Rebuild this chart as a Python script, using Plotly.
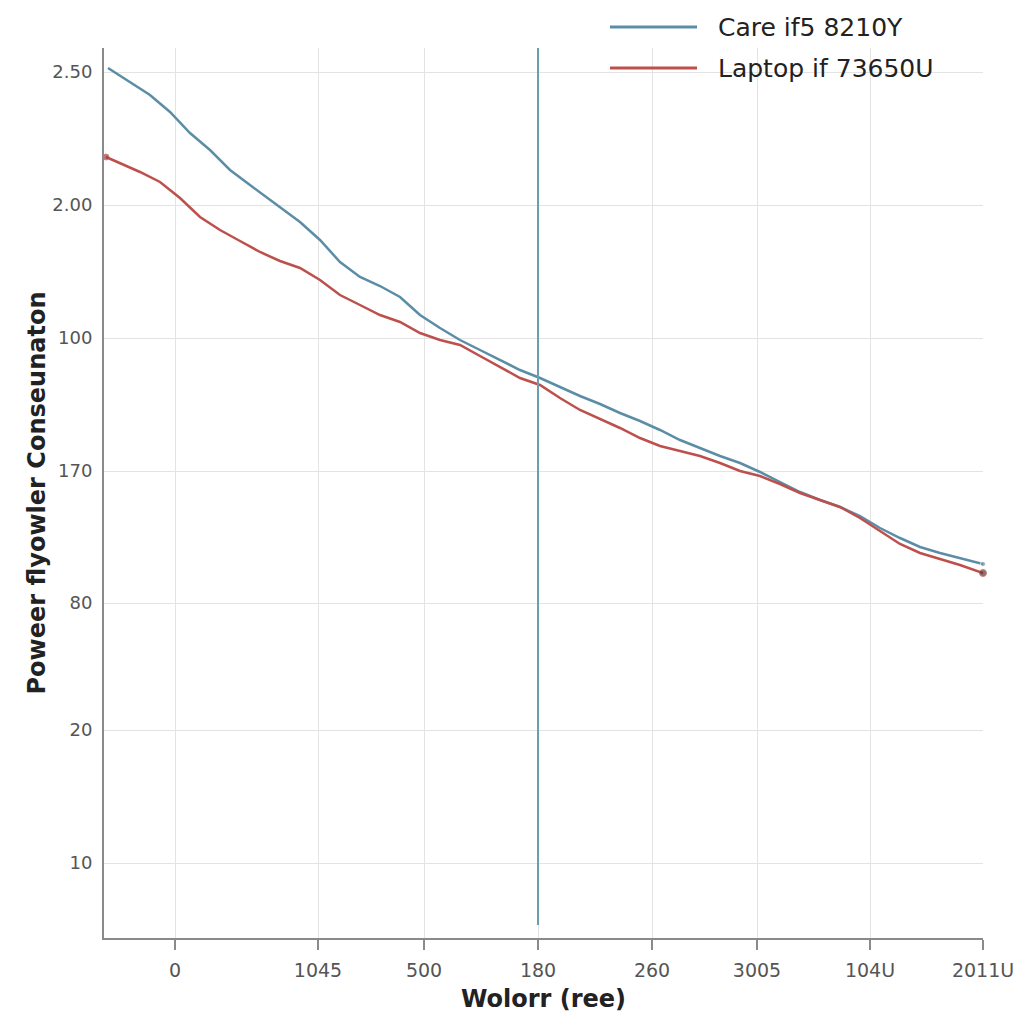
import plotly.graph_objects as go

# Tick labels (as printed in the reference) and their positions on the chart's scales
x_tick_pos = [71, 214, 320, 434, 548, 653, 766, 879]
x_tick_text = ["0", "1045", "500", "180", "260", "3005", "104U", "2011U"]
y_tick_pos = [866, 733, 600, 467, 335, 208, 75]
y_tick_text = ["2.50", "2.00", "100", "170", "80", "20", "10"]

# Series: Care i5 8210Y
core_x = [4, 26, 46, 66, 86, 106, 126, 146, 166, 196, 216, 236, 256, 276, 296, 316, 336, 356,
          376, 396, 416, 436, 456, 476, 496, 516, 536, 556, 576, 596, 616, 636, 656, 676, 696,
          716, 736, 756, 776, 796, 816, 836, 856, 879]
core_y = [870, 856, 843, 826, 805, 788, 768, 753, 738, 716, 698, 676, 661, 652, 641, 623, 610, 598,
          588, 578, 568, 560, 551, 542, 534, 525, 517, 508, 498, 490, 482, 475, 466, 456, 446,
          438, 431, 422, 410, 400, 391, 385, 380, 374]

# Series: Laptop i7 3650U
lap_x = [2, 16, 36, 56, 76, 96, 116, 136, 156, 176, 196, 216, 236, 256, 276, 296, 316, 336, 356,
         376, 396, 416, 436, 456, 476, 496, 516, 536, 556, 576, 596, 616, 636, 656, 676, 696, 716,
         736, 756, 776, 796, 816, 836, 856, 879]
lap_y = [781, 775, 766, 756, 740, 721, 708, 697, 686, 677, 670, 658, 643, 633, 623, 616, 605, 598,
         593, 582, 571, 560, 553, 540, 528, 519, 510, 500, 492, 487, 482, 475, 467, 462, 454, 445,
         438, 431, 420, 407, 394, 385, 379, 373, 365]

series_names = ["Care if5 8210Y", "Laptop if 73650U"]
marker_x = 434  # vertical reference line position

BLUE = "#5b8ea6"
RED = "#bd504c"
FONT = "DejaVu Sans, Liberation Sans, Arial"

fig = go.Figure()
fig.add_trace(go.Scatter(
    x=core_x, y=core_y, mode="lines+markers", name=series_names[0],
    line=dict(color=BLUE, width=2.5),
    marker=dict(size=[0] * (len(core_x) - 1) + [5], color=BLUE),
    cliponaxis=False, showlegend=False))
fig.add_trace(go.Scatter(
    x=lap_x, y=lap_y, mode="lines+markers", name=series_names[1],
    line=dict(color=RED, width=2.5),
    marker=dict(size=[6] + [0] * (len(lap_x) - 2) + [7],
                color=["#a04040"] + [RED] * (len(lap_x) - 2) + ["#5a3434"]),
    cliponaxis=False, showlegend=False))

# Vertical reference line
fig.add_shape(type="line", xref="x", yref="y", x0=marker_x, x1=marker_x, y0=13, y1=890,
              line=dict(color="#6a9fb0", width=2))

# Manual legend (above plot, top right)
leg_rows_px = [27, 68]
colors = [BLUE, RED]
for name, ypx, c in zip(series_names, leg_rows_px, colors):
    yy = (1024 - ypx - 86) / 890
    fig.add_shape(type="line", xref="paper", yref="paper",
                  x0=(610 - 104) / 879, x1=(697 - 104) / 879, y0=yy, y1=yy,
                  line=dict(color=c, width=3))
    fig.add_annotation(xref="paper", yref="paper",
                       x=(716 - 104) / 879, y=yy,
                       text=name, showarrow=False, xanchor="left", yanchor="middle",
                       font=dict(family=FONT, size=25, color="#222"))

fig.update_layout(
    width=1024, height=1024,
    margin=dict(l=104, r=41, t=48, b=86),
    paper_bgcolor="white", plot_bgcolor="white",
    font=dict(family=FONT, color="#444"),
    xaxis=dict(
        range=[0, 879], tickmode="array", tickvals=x_tick_pos, ticktext=x_tick_text,
        automargin=False,
        showgrid=True, gridcolor="#e3e3e3", gridwidth=1,
        showline=True, linecolor="#8a8a8a", linewidth=2,
        ticks="outside", ticklen=10, tickwidth=2, tickcolor="#8a8a8a",
        ticklabelstandoff=4,
        tickfont=dict(family=FONT, size=19, color="#555"), zeroline=False,
        title=dict(text="<b>Wolorr (ree)</b>", font=dict(family=FONT, size=24, color="#222"), standoff=10),
    ),
    yaxis=dict(
        range=[0, 890], tickmode="array", tickvals=y_tick_pos, ticktext=y_tick_text,
        automargin=False,
        showgrid=True, gridcolor="#e3e3e3", gridwidth=1,
        showline=True, linecolor="#8a8a8a", linewidth=2,
        ticks="", ticklabelstandoff=6,
        tickfont=dict(family=FONT, size=18, color="#555"), zeroline=False,
        title=dict(text="<b>Poweer flyowler Conseunaton</b>", font=dict(family=FONT, size=24, color="#222"), standoff=0),
    ),
)

fig.write_html("out.html")
